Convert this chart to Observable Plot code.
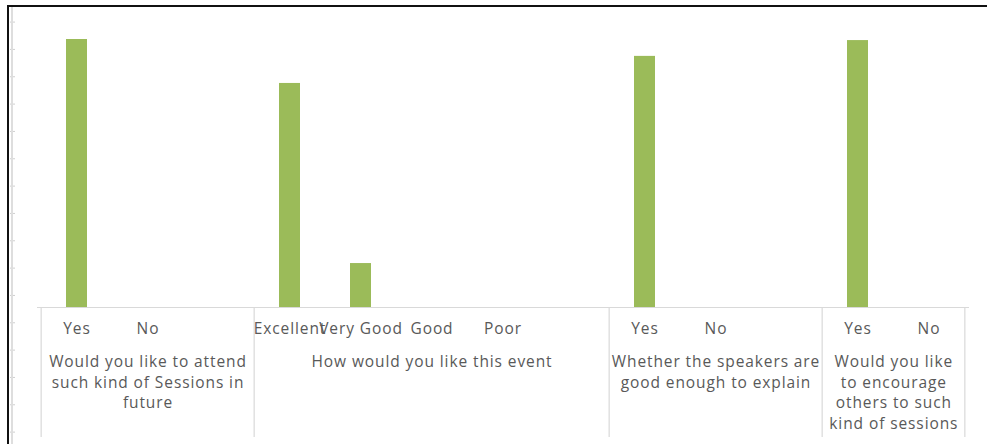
<!DOCTYPE html>
<html><head><meta charset="utf-8">
<script src="https://cdn.jsdelivr.net/npm/d3@7"></script>
<script src="https://cdn.jsdelivr.net/npm/@observablehq/plot@0.6"></script>
<style>
body{margin:0;background:#fff;}
#wrap{position:relative;width:987px;height:444px;overflow:hidden;background:#fff;}
#chart{position:absolute;left:0;top:0;}
#chart svg text{letter-spacing:0.9px;}
#border{position:absolute;left:7px;top:5px;right:-4px;bottom:-4px;border-left:2px solid #111;border-top:2px solid #111;pointer-events:none;}
#yline{position:absolute;left:11px;top:7px;width:2px;bottom:0;background:#dedede;pointer-events:none;}
</style></head><body>
<div id="wrap"><div id="chart"></div><div id="yline"></div><div id="border"></div></div>
<script>
// ---- data ----
const groups = [
  "Would you like to attend\nsuch kind of Sessions in\nfuture",
  "How would you like this event",
  "Whether the speakers are\ngood enough to explain",
  "Would you like\nto encourage\nothers to such\nkind of sessions"
];
const groupOptions = [
  ["Yes", "No"],
  ["Excellent", "Very Good", "Good", "Poor"],
  ["Yes", "No"],
  ["Yes", "No"]
];
const groupValues = [
  [100, 0],
  [83.6, 16.4, 0, 0],
  [93.7, 0],
  [99.6, 0]
];
const groupHasGap = [true, true, true, false];
const yTicks = [106.5, 96.3, 86.1, 75.9, 65.7, 55.5, 45.3, 35.1, 24.9, 14.7, 4.5, -5.7, -15.9, -26.1, -36.3, -46.5];

// ---- layout ----
const W = 987, H = 444, ML = 37, MR = 18, MT = 39, MB = 137;
const FONT = "Open Sans";
const FS = 15.5;
const TXT = "#595959";
const GRID = "#d9d9d9";

const slots = [];
groups.forEach((g, i) => {
  groupOptions[i].forEach((o, j) => slots.push({key: `${i}:${j}`, label: o, value: groupValues[i][j], group: i}));
  if (groupHasGap[i]) slots.push({key: `${i}:gap`, label: "", value: null, group: i});
});
const step = (W - ML - MR) / slots.length;
const groupInfo = groups.map((g, i) => {
  const s = slots.filter(d => d.group === i);
  const n = s.length;
  return {name: g, first: s[0].key, last: s[n - 1].key, mid: s[Math.floor((n - 1) / 2)].key, dx: n % 2 === 0 ? step / 2 : 0};
});
const noText = () => "";

const marks = [
  Plot.ruleY([0], {stroke: GRID, strokeWidth: 1.2}),
  Plot.barY(slots.filter(d => d.value != null && d.value > 0), {x: "key", y: "value", fill: "#9BBB59"}),
  Plot.axisX(groupInfo.map(d => d.first), {anchor: "bottom", label: null, tickSize: 130, tickFormat: noText, dx: -step / 2, stroke: GRID, strokeWidth: 1.2}),
  Plot.axisX([groupInfo[groupInfo.length - 1].last], {anchor: "bottom", label: null, tickSize: 130, tickFormat: noText, dx: step / 2, stroke: GRID, strokeWidth: 1.2}),
  Plot.axisY(yTicks, {anchor: "left", label: null, tickSize: 5, tickFormat: noText, dx: -(ML - 15), stroke: "#cfcfcf"}),
  Plot.text(slots, {x: "key", text: "label", frameAnchor: "bottom", dy: 26, fill: TXT, fontSize: FS, fontFamily: FONT})
];
groupInfo.forEach(gi => {
  marks.push(Plot.text([gi], {x: "mid", text: "name", frameAnchor: "bottom", lineAnchor: "top", dy: 45, dx: gi.dx, lineHeight: 1.33, fill: TXT, fontSize: FS, fontFamily: FONT}));
});

const chart = Plot.plot({
  width: W, height: H,
  marginLeft: ML, marginRight: MR, marginTop: MT, marginBottom: MB,
  style: {background: "transparent", fontFamily: FONT, overflow: "visible"},
  x: {type: "band", domain: slots.map(d => d.key), paddingInner: 0.7, paddingOuter: 0.35, axis: null},
  y: {domain: [0, 100], axis: null},
  marks
});
document.getElementById("chart").appendChild(chart);
</script>
</body></html>
